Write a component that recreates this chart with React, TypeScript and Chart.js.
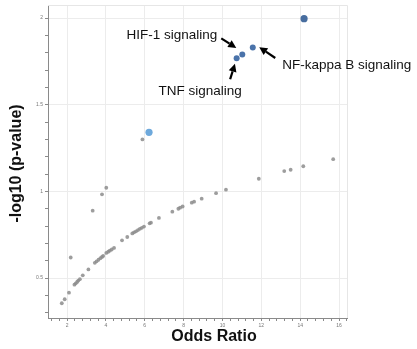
import React, { useEffect, useRef } from "react";
import { Chart, registerables } from "chart.js";

Chart.register(...registerables);

// ---- data ----
const greyX = [1.73, 1.88, 2.10, 2.19, 2.38, 2.45, 2.52, 2.58, 2.66, 2.81, 3.10, 3.32, 3.43, 3.52, 3.62, 3.72, 3.80, 3.86, 3.80, 4.02, 4.02, 4.12, 4.20, 4.30, 4.42, 4.83, 5.10, 5.36, 5.45, 5.55, 5.65, 5.75, 5.85, 5.96, 6.25, 6.32, 6.73, 7.42, 7.73, 7.82, 7.95, 8.42, 8.54, 8.93, 9.67, 10.18, 11.87, 13.18, 13.51, 14.16, 15.70, 5.88];
const greyY = [0.355, 0.378, 0.416, 0.619, 0.462, 0.470, 0.478, 0.486, 0.494, 0.516, 0.550, 0.889, 0.588, 0.597, 0.606, 0.615, 0.622, 0.628, 0.983, 1.021, 0.645, 0.652, 0.658, 0.665, 0.674, 0.718, 0.737, 0.758, 0.764, 0.770, 0.777, 0.784, 0.790, 0.797, 0.816, 0.820, 0.847, 0.883, 0.900, 0.906, 0.913, 0.935, 0.941, 0.958, 0.990, 1.010, 1.073, 1.117, 1.125, 1.145, 1.186, 1.300];

const topX = [14.2];
const topY = [1.996];
const lightX = [6.22];
const lightY = [1.341];

const pathwayNames = ["TNF signaling", "HIF-1 signaling", "NF-kappa B signaling"];
const pathwayX = [10.73, 11.02, 11.56];
const pathwayY = [1.768, 1.79, 1.83];

const xTickLabels = [2, 4, 6, 8, 10, 12, 14, 16];
const yTickLabels = [0.5, 1, 1.5, 2];
const xTitle = "Odds Ratio";
const yTitle = "-log10 (p-value)";

// ---- styling ----
const FONT = "'Liberation Sans', Arial, Helvetica, sans-serif";
// annotation placement (pixel offsets from the point): text anchor, arrow tail, arrow tip
const annotStyle = [
  { tx: -36.5, ty: 33, align: "center", ax: -6.5, ay: 21, hx: -1.7, hy: 5.5 },
  { tx: -25, ty: -19.5, align: "right", ax: -21, ay: -16, hx: -6, hy: -6.5 },
  { tx: 29.5, ty: 17.5, align: "left", ax: 22.5, ay: 10.5, hx: 6.5, hy: -0.3 },
];

const toPts = (xs: number[], ys: number[]) => xs.map((x, i) => ({ x, y: ys[i] }));

const near = (v: number, arr: number[]) => arr.some((a) => Math.abs(a - v) < 1e-6);

const xTickValues: number[] = [];
for (let k = 3; k <= 41; k++) xTickValues.push(Math.round(k * 4) / 10);
const yTickValues: number[] = [];
for (let k = 3; k <= 20; k++) yTickValues.push(k / 10);

const extras = {
  id: "extras",
  afterDraw(chart: any) {
    const { ctx, chartArea, scales } = chart;
    ctx.save();
    // outline (top/right)
    ctx.strokeStyle = "#e6e6e6";
    ctx.lineWidth = 1;
    ctx.beginPath();
    ctx.moveTo(chartArea.left, chartArea.top + 0.5);
    ctx.lineTo(chartArea.right + 0.5, chartArea.top + 0.5);
    ctx.lineTo(chartArea.right + 0.5, chartArea.bottom);
    ctx.stroke();

    // annotations
    ctx.fillStyle = "#111";
    ctx.strokeStyle = "#000";
    ctx.font = `13.5px ${FONT}`;
    ctx.textBaseline = "middle";
    pathwayNames.forEach((name, i) => {
      const px = scales.x.getPixelForValue(pathwayX[i]);
      const py = scales.y.getPixelForValue(pathwayY[i]);
      const s = annotStyle[i];
      ctx.textAlign = s.align;
      ctx.fillStyle = "#111";
      ctx.fillText(name, px + s.tx, py + s.ty);
      const x0 = px + s.ax, y0 = py + s.ay, x1 = px + s.hx, y1 = py + s.hy;
      const ang = Math.atan2(y1 - y0, x1 - x0);
      const hl = 8, hw = 4;
      const bx = x1 - hl * Math.cos(ang), by = y1 - hl * Math.sin(ang);
      ctx.lineWidth = 2.2;
      ctx.beginPath();
      ctx.moveTo(x0, y0);
      ctx.lineTo(bx, by);
      ctx.stroke();
      ctx.fillStyle = "#000";
      ctx.beginPath();
      ctx.moveTo(x1, y1);
      ctx.lineTo(bx + hw * Math.sin(ang), by - hw * Math.cos(ang));
      ctx.lineTo(bx - hw * Math.sin(ang), by + hw * Math.cos(ang));
      ctx.closePath();
      ctx.fill();
    });

    // axis titles
    ctx.fillStyle = "#111";
    ctx.font = `bold 16px ${FONT}`;
    ctx.textAlign = "center";
    ctx.textBaseline = "middle";
    ctx.fillText(xTitle, 214, 337);
    ctx.translate(17, 163.5);
    ctx.rotate(-Math.PI / 2);
    ctx.fillText(yTitle, 0, 0);
    ctx.restore();
  },
};

export default function App() {
  const ref = useRef<HTMLCanvasElement | null>(null);
  useEffect(() => {
    if (!ref.current) return;
    const chart = new Chart(ref.current, {
      type: "scatter",
      data: {
        datasets: [
          {
            data: toPts(greyX, greyY),
            backgroundColor: "rgba(140,140,140,0.85)",
            borderWidth: 0,
            pointRadius: 1.9,
          },
          {
            data: toPts(lightX, lightY),
            backgroundColor: "#6ea9dc",
            borderWidth: 0,
            pointRadius: 3.6,
          },
          {
            data: toPts(pathwayX, pathwayY),
            backgroundColor: "#4a73aa",
            borderWidth: 0,
            pointRadius: 3,
          },
          {
            data: toPts(topX, topY),
            backgroundColor: "#476d9f",
            borderWidth: 0,
            pointRadius: 3.6,
          },
        ],
      },
      options: {
        animation: false,
        responsive: true,
        maintainAspectRatio: false,
        layout: { padding: { top: 4, right: 70, left: 0, bottom: 0 } },
        plugins: { legend: { display: false }, tooltip: { enabled: false } },
        scales: {
          x: {
            type: "linear",
            min: 1.02,
            max: 16.41,
            afterBuildTicks: (s: any) => {
              s.ticks = xTickValues.map((v) => ({ value: v }));
            },
            afterFit: (s: any) => {
              s.height = 31;
            },
            border: { display: true, color: "#8a8a8a", width: 1 },
            grid: {
              color: (c: any) => (c.tick && near(c.tick.value, xTickLabels) ? "#ececec" : "rgba(0,0,0,0)"),
              tickColor: "#8a8a8a",
              tickLength: 3,
              drawTicks: true,
            },
            ticks: {
              autoSkip: false,
              maxRotation: 0,
              padding: 1.5,
              color: "#777",
              font: { size: 5, family: FONT },
              callback: (v: any) => (near(Number(v), xTickLabels) ? String(Number(v)) : ""),
            },
          },
          y: {
            type: "linear",
            min: 0.27,
            max: 2.075,
            afterBuildTicks: (s: any) => {
              s.ticks = yTickValues.map((v) => ({ value: v }));
            },
            afterFit: (s: any) => {
              s.width = 48;
            },
            border: { display: true, color: "#8a8a8a", width: 1 },
            grid: {
              color: (c: any) => (c.tick && near(c.tick.value, yTickLabels) ? "#ececec" : "rgba(0,0,0,0)"),
              tickColor: "#8a8a8a",
              tickLength: 3,
              drawTicks: true,
            },
            ticks: {
              autoSkip: false,
              padding: 2,
              color: "#777",
              font: { size: 5, family: FONT },
              callback: (v: any) => (near(Number(v), yTickLabels) ? String(Number(v)) : ""),
            },
          },
        },
      },
      plugins: [extras],
    });
    return () => chart.destroy();
  }, []);
  return (
    <div style={{ position: "fixed", left: 0, top: 0, width: 417, height: 349, background: "#fff" }}>
      <canvas ref={ref} />
    </div>
  );
}
